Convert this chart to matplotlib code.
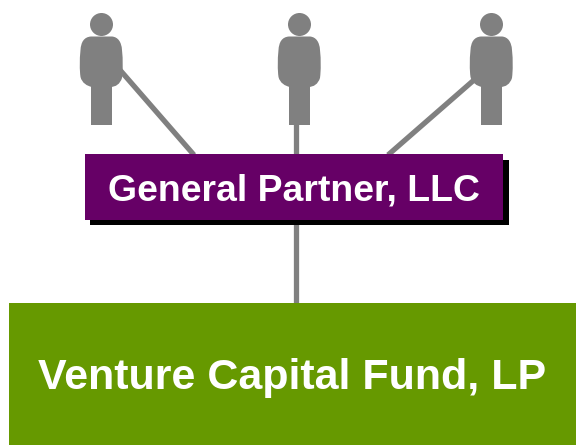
import matplotlib
matplotlib.use("Agg")
import matplotlib.pyplot as plt
from matplotlib.patches import Rectangle, Circle, PathPatch
from matplotlib.path import Path

plt.rcParams['font.family'] = ['Liberation Sans', 'DejaVu Sans']

GRAY = "#808080"
PURPLE = "#660066"
GREEN = "#669900"

# people on top, x centre of each figure
person_x = [101, 299, 491]

# box labels
gp_label = "General Partner, LLC"
fund_label = "Venture Capital Fund, LP"

# connector lines as (x0, y0, x1, y1)
links = [(120, 70, 194, 155),
         (295.5, 120, 295.5, 155),
         (474, 80, 388, 155),
         (295.5, 220, 295.5, 304)]


def draw_person(ax, cx):
    ax.add_patch(Circle((cx + 0.5, 24.5), 11.5, fc=GRAY, ec="none", zorder=3))
    ax.add_patch(Rectangle((cx - 10, 80), 20.5, 45, fc=GRAY, ec="none", zorder=3))
    # rounded torso, wider in the middle
    verts = [(cx - 10, 36.5),
             (cx - 17, 37), (cx - 20, 42), (cx - 20.5, 50),
             (cx - 21.5, 60), (cx - 21.5, 70), (cx - 20.5, 77),
             (cx - 19, 83), (cx - 14, 86), (cx - 9, 87),
             (cx - 3, 87), (cx + 3, 87), (cx + 9, 87),
             (cx + 15, 87), (cx + 19, 84), (cx + 21, 78),
             (cx + 22, 70), (cx + 22, 60), (cx + 21, 50),
             (cx + 20.5, 42), (cx + 17, 37), (cx + 11, 36.5),
             (cx - 10, 36.5)]
    codes = [Path.MOVETO] + [Path.CURVE4] * 21 + [Path.LINETO]
    ax.add_patch(PathPatch(Path(verts, codes), fc=GRAY, ec="none", zorder=3))


fig = plt.figure(figsize=(5.76, 4.45), dpi=100)
ax = fig.add_axes([0, 0, 1, 1])
ax.set_xlim(0, 576)
ax.set_ylim(445, 0)
ax.axis("off")

for x0, y0, x1, y1 in links:
    ax.plot([x0, x1], [y0, y1], color=GRAY, lw=3.8, solid_capstyle="butt", zorder=1)

for cx in person_x:
    draw_person(ax, cx)

# general partner box with hard shadow
ax.add_patch(Rectangle((90, 160), 419, 65, fc="black", ec="none", zorder=2))
ax.add_patch(Rectangle((85, 154), 418, 66, fc=PURPLE, ec="none", zorder=2.5))
ax.text(293.5, 191, gp_label, color="white", fontsize=26.9, fontweight="bold",
        ha="center", va="center", zorder=4)

# fund box
ax.add_patch(Rectangle((9, 303), 567, 142, fc=GREEN, ec="none", zorder=2))
ax.text(292, 378.5, fund_label, color="white", fontsize=31, fontweight="bold",
        ha="center", va="center", zorder=4)

fig.savefig("out.png", dpi=100)
